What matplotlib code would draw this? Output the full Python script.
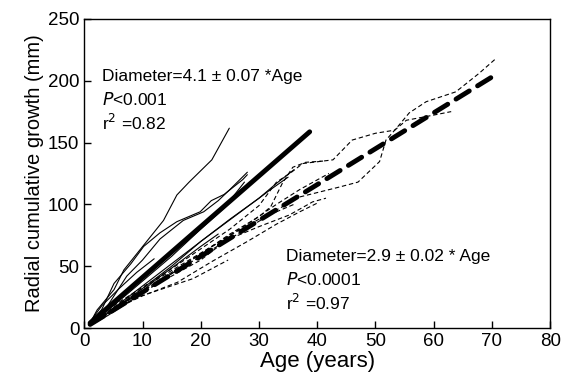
import matplotlib
matplotlib.use('Agg')
import matplotlib.pyplot as plt
import numpy as np

plt.rcParams['font.family'] = ['Liberation Sans', 'DejaVu Sans']

#=====================
#  Data
#=====================
# young trees (thin solid lines): (age, radial cumulative growth)
solid_series = [
    [(0.8, 2.4), (2.2, 14.6), (5.1, 31), (6.8, 47), (10.2, 67), (13.6, 87),
     (15.9, 107.6), (18, 118), (21.9, 136), (24.9, 161.6)],
    [(1, 4), (3, 15), (5.1, 36), (8, 52), (10.2, 66), (13, 77), (15.9, 86),
     (19.9, 94), (21.8, 103), (24, 108), (27.2, 120), (28, 124)],
    [(1, 3), (4, 18), (7.3, 42), (10, 55), (13, 72), (17, 87), (20.5, 94),
     (23, 103), (25, 112), (28, 126)],
    [(1, 3), (5, 18), (10, 38), (15, 58), (20, 80), (24, 97), (27.5, 118)],
    [(1, 2), (5, 15), (10, 32), (15, 50), (20, 70), (25, 88), (30, 105),
     (33, 117), (36, 128)],
    [(1, 3), (5, 16), (10, 34), (15, 52), (20, 70), (24, 84), (28, 98),
     (32, 112), (35, 122)],
    [(1, 2), (4, 10), (8, 22), (12, 38), (16, 52), (20, 66), (23, 76)],
    [(1, 5), (3, 18), (6, 32), (9, 45), (12, 56)],
]

# old trees (thin dashed lines)
dashed_series = [
    [(1, 3), (5, 16), (10, 30), (15, 45), (20, 60), (25, 75), (30, 88),
     (34, 98), (37, 106), (43.8, 114), (47, 118), (50.7, 134.6),
     (51.8, 152), (53.6, 161.6), (55.8, 174), (58.7, 183), (63.8, 191),
     (67.8, 206), (70.7, 218)],
    [(1, 4), (5, 18), (10, 33), (15, 48), (20, 64), (25, 80), (30, 99),
     (33, 118), (35.3, 125), (37.5, 133), (42.7, 136), (46, 152),
     (50, 157.5), (53.3, 160), (55.3, 168), (59.8, 172), (63, 175)],
    [(1, 2), (5, 14), (10, 28), (15, 44), (20, 60), (25, 76), (30, 90),
     (32, 98), (34, 117), (35.8, 130), (38, 134), (41, 135)],
    [(1, 2), (8, 24), (15, 42), (20, 55), (24.4, 71), (30, 82),
     (35.2, 91.4), (39.2, 102), (41.5, 105)],
    [(1, 3), (6, 17), (10, 26), (16, 37), (22, 54), (28, 70), (33, 84),
     (37, 94), (40, 101)],
    [(1, 3), (5, 14), (7.2, 22), (13, 31), (18.7, 40), (24.7, 55)],
    [(1, 4), (5, 15), (10, 30), (15, 44), (20, 58), (26, 75), (32, 92),
     (36, 100)],
    [(1, 3), (6, 20), (12, 38), (18, 55), (24, 72), (28, 84), (33, 100),
     (37, 112), (42, 125)],
]

# fitted lines
young_slope = 4.1
young_age = [1, 38.7]
old_slope = 2.9
old_age = [1, 70.7]

x_ticks = [0, 10, 20, 30, 40, 50, 60, 70, 80]
y_ticks = [0, 50, 100, 150, 200, 250]

#=====================
#  Figure
#=====================
fig = plt.figure(figsize=(5.62, 3.85), dpi=100)
ax = fig.add_axes([0.150, 0.148, 0.829, 0.803])

for s in solid_series:
    a = np.array(s)
    ax.plot(a[:, 0], a[:, 1], color='black', lw=0.8, solid_capstyle='round')

for s in dashed_series:
    a = np.array(s)
    ax.plot(a[:, 0], a[:, 1], color='black', lw=0.8, ls=(0, (4, 2.5)))

# regression lines
xa = np.array(young_age)
ax.plot(xa, young_slope * xa, color='black', lw=3.5, solid_capstyle='round')
xb = np.array(old_age)
ax.plot(xb, old_slope * xb, color='black', lw=3.5, ls=(0, (3.2, 2.0)),
        dash_capstyle='round')

# annotations
fs = 12.5
ax.text(3.1, 203, 'Diameter=4.1 \u00b1 0.07 *Age', fontsize=fs, va='center')
ax.text(3.1, 184.5, r'$\it{P}$<0.001', fontsize=fs, va='center')
ax.text(3.1, 166, r'r$^{2}$ =0.82', fontsize=fs, va='center')

ax.text(34.6, 58, 'Diameter=2.9 \u00b1 0.02 * Age', fontsize=fs, va='center')
ax.text(34.6, 39, r'$\it{P}$<0.0001', fontsize=fs, va='center')
ax.text(34.6, 20, r'r$^{2}$ =0.97', fontsize=fs, va='center')

# axes
ax.set_xlim(0, 80)
ax.set_ylim(0, 250)
ax.set_xticks(x_ticks)
ax.set_yticks(y_ticks)
ax.tick_params(direction='in', length=5, width=1, labelsize=13.5,
               top=False, right=False)
for sp in ax.spines.values():
    sp.set_linewidth(1.0)
ax.set_xlabel('Age (years)', fontsize=16, labelpad=1)
ax.set_ylabel('Radial cumulative growth (mm)', fontsize=14.5, labelpad=3)

fig.savefig('out.png', dpi=100)
